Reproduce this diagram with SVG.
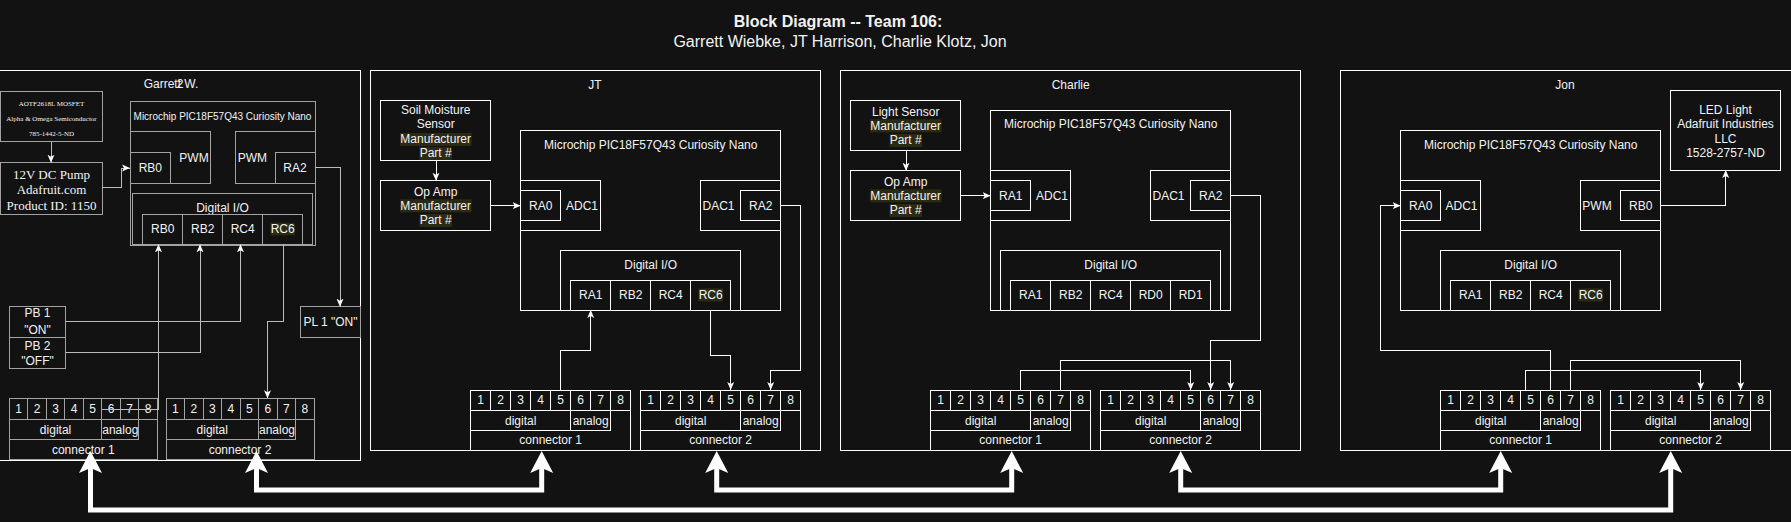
<svg xmlns="http://www.w3.org/2000/svg" width="1791" height="522" viewBox="0 0 1791 522">
<style>
.b{fill:none;stroke:#fff;stroke-width:1;shape-rendering:crispEdges}
.g{fill:none;stroke:#a3a3a3;stroke-width:1;shape-rendering:crispEdges}
.t{font-family:"Liberation Sans",Arial,Helvetica,sans-serif;font-size:12px;fill:#f2f2f2;text-anchor:middle;dominant-baseline:central}
.s{text-anchor:start}
.sm{font-size:10px}
.ser{font-family:"Liberation Serif","Times New Roman",serif}
.hl{fill:#2b2b14}
.e{fill:none;stroke:#fff;stroke-width:1;shape-rendering:crispEdges}
.eg{fill:none;stroke:#bdbdbd;stroke-width:1;shape-rendering:crispEdges}
.thick{fill:none;stroke:#fff;stroke-width:5;stroke-linejoin:miter}
.ah{fill:#fff}
</style>
<defs>
<marker id="a" viewBox="0 0 8 8" refX="8" refY="4" markerWidth="8" markerHeight="8" orient="auto" markerUnits="userSpaceOnUse">
<path d="M0,0.5 L8,4 L0,7.5 L2,4 Z" fill="#fff"/>
</marker>
</defs>
<rect x="0" y="0" width="1791" height="522" fill="#121212"/>

<g id="title">
<text class="t" x="838" y="21.7" style="font-size:16px;font-weight:bold">Block Diagram -- Team 106:</text>
<text class="t" x="840" y="41.7" style="font-size:16px">Garrett Wiebke, JT Harrison, Charlie Klotz, Jon</text>
</g>

<!-- ================= GARRETT ================= -->
<g id="garrett-panel">
<rect class="b" x="-1" y="70" width="361.7" height="390"/>
<text class="t" x="171" y="84">Garrett W.</text>
<text class="t" x="180" y="84">2</text>
</g>
<g id="garrett-mosfet">
<rect class="g" x="0" y="91" width="102" height="50.7"/>
<text class="t ser" x="51.5" y="104" style="font-size:7px">AOTF2618L MOSFET</text>
<text class="t ser" x="51.5" y="119" style="font-size:7px">Alpha &amp; Omega Semiconductor</text>
<text class="t ser" x="51.5" y="134" style="font-size:7px">785-1442-5-ND</text>
</g>
<g id="garrett-pump">
<rect class="g" x="0" y="162.7" width="102" height="51.3"/>
<text class="t ser" x="51.5" y="174" style="font-size:13px">12V DC Pump</text>
<text class="t ser" x="51.5" y="189.3" style="font-size:13px">Adafruit.com</text>
<text class="t ser" x="51.5" y="205" style="font-size:13px">Product ID: 1150</text>
</g>
<g id="garrett-mcu">
<rect class="g" x="130" y="101" width="185" height="144"/>
<text class="t sm" x="222.5" y="116.7">Microchip PIC18F57Q43 Curiosity Nano</text>
<rect class="g" x="130" y="131.7" width="80.7" height="51.6"/>
<rect class="g" x="130" y="152.3" width="40.7" height="31"/>
<text class="t" x="150.3" y="168">RB0</text>
<text class="t" x="194" y="157.7">PWM</text>
<rect class="g" x="235" y="131.7" width="80" height="51.6"/>
<rect class="g" x="275" y="152.3" width="40" height="31"/>
<text class="t" x="252.3" y="157.7">PWM</text>
<text class="t" x="295" y="168">RA2</text>
<rect class="g" x="132.3" y="193.3" width="180.4" height="51"/>
<text class="t" x="222.5" y="207.7">Digital I/O</text>
<rect class="g" x="142.7" y="214" width="40" height="30.3"/>
<rect class="g" x="182.7" y="214" width="40" height="30.3"/>
<rect class="g" x="222.7" y="214" width="40" height="30.3"/>
<rect class="g" x="262.7" y="214" width="40" height="30.3"/>
<text class="t" x="162.7" y="229">RB0</text>
<text class="t" x="202.7" y="229">RB2</text>
<text class="t" x="242.7" y="229">RC4</text>
<rect class="hl" x="270.5" y="222.8" width="24.5" height="12.5"/>
<text class="t" x="282.7" y="229">RC6</text>
</g>
<g id="garrett-pb1">
<rect class="g" x="9.3" y="306.7" width="56.4" height="30.6"/>
<text class="t" x="37.5" y="312.7">PB 1</text>
<text class="t" x="37.5" y="330">"ON"</text>
</g>
<g id="garrett-pb2">
<rect class="g" x="9.3" y="337.3" width="56.4" height="31"/>
<text class="t" x="37.5" y="346">PB 2</text>
<text class="t" x="37.5" y="360.7">"OFF"</text>
</g>
<g id="garrett-pl1">
<rect class="g" x="300.3" y="306.7" width="60.4" height="30.6"/>
<text class="t" x="330.5" y="322">PL 1 "ON"</text>
</g>
<g id="garrett-conn1" transform="translate(9.3,398.3)">
<rect class="g" x="0" y="0" width="148" height="61.7"/>
<path class="g" d="M18.5,0V21M37,0V21M55.5,0V21M74,0V21M92.5,0V21M111,0V21M129.5,0V21M0,21H148M0,41.7H129.5M92.5,21V41.7M129.5,21V41.7"/>
<text class="t" x="9.25" y="10.5">1</text><text class="t" x="27.75" y="10.5">2</text><text class="t" x="46.25" y="10.5">3</text><text class="t" x="64.75" y="10.5">4</text><text class="t" x="83.25" y="10.5">5</text><text class="t" x="101.75" y="10.5">6</text><text class="t" x="120.25" y="10.5">7</text><text class="t" x="138.75" y="10.5">8</text>
<text class="t" x="46.25" y="31.3">digital</text>
<text class="t" x="111" y="31.3">analog</text>
<text class="t" x="74" y="51.7">connector 1</text>
</g>
<g id="garrett-conn2" transform="translate(166,398.3)">
<rect class="g" x="0" y="0" width="148" height="61.7"/>
<path class="g" d="M18.5,0V21M37,0V21M55.5,0V21M74,0V21M92.5,0V21M111,0V21M129.5,0V21M0,21H148M0,41.7H129.5M92.5,21V41.7M129.5,21V41.7"/>
<text class="t" x="9.25" y="10.5">1</text><text class="t" x="27.75" y="10.5">2</text><text class="t" x="46.25" y="10.5">3</text><text class="t" x="64.75" y="10.5">4</text><text class="t" x="83.25" y="10.5">5</text><text class="t" x="101.75" y="10.5">6</text><text class="t" x="120.25" y="10.5">7</text><text class="t" x="138.75" y="10.5">8</text>
<text class="t" x="46.25" y="31.3">digital</text>
<text class="t" x="111" y="31.3">analog</text>
<text class="t" x="74" y="51.7">connector 2</text>
</g>

<!-- ================= JT ================= -->
<g id="jt-panel">
<rect class="b" x="370" y="70" width="450.7" height="380"/>
<text class="t" x="595" y="85">JT</text>
</g>
<g id="jt-sensor">
<rect class="b" x="380.7" y="100.7" width="110" height="59.3"/>
<text class="t" x="435.7" y="110">Soil Moisture</text>
<text class="t" x="435.7" y="124">Sensor</text>
<rect class="hl" x="400" y="133" width="71.5" height="13"/>
<text class="t" x="435.7" y="139.3">Manufacturer</text>
<rect class="hl" x="419.5" y="147" width="32.5" height="13"/>
<text class="t" x="435.7" y="153.3">Part #</text>
</g>
<g id="jt-opamp">
<rect class="b" x="380.7" y="180.7" width="110" height="49.3"/>
<text class="t" x="435.7" y="192.3">Op Amp</text>
<rect class="hl" x="400" y="199.3" width="71.5" height="13"/>
<text class="t" x="435.7" y="205.7">Manufacturer</text>
<rect class="hl" x="419.5" y="214" width="32.5" height="13"/>
<text class="t" x="435.7" y="220.3">Part #</text>
</g>
<g id="jt-mcu">
<rect class="b" x="520.7" y="130.7" width="260" height="179.3"/>
<text class="t" x="650.7" y="145">Microchip PIC18F57Q43 Curiosity Nano</text>
<rect class="b" x="520.7" y="180.7" width="80" height="50"/>
<rect class="b" x="520.7" y="190.7" width="40" height="30"/>
<text class="t" x="540.7" y="205.7">RA0</text>
<text class="t" x="582" y="205.7">ADC1</text>
<rect class="b" x="700.7" y="180.7" width="80" height="50"/>
<rect class="b" x="740.7" y="190.7" width="40" height="30"/>
<text class="t" x="718.5" y="205.7">DAC1</text>
<text class="t" x="760.7" y="205.7">RA2</text>
<rect class="b" x="560.7" y="250.7" width="180" height="59.3"/>
<text class="t" x="650.7" y="265">Digital I/O</text>
<rect class="b" x="570.7" y="280.3" width="40" height="29.7"/>
<rect class="b" x="610.7" y="280.3" width="40" height="29.7"/>
<rect class="b" x="650.7" y="280.3" width="40" height="29.7"/>
<rect class="b" x="690.7" y="280.3" width="40" height="29.7"/>
<text class="t" x="590.7" y="295">RA1</text>
<text class="t" x="630.7" y="295">RB2</text>
<text class="t" x="670.7" y="295">RC4</text>
<rect class="hl" x="698.5" y="288.5" width="24.5" height="13"/>
<text class="t" x="710.7" y="295">RC6</text>
</g>
<g id="jt-conn1" transform="translate(470.7,390)">
<rect class="b" x="0" y="0" width="160" height="60"/>
<path class="b" d="M20,0V20.7M40,0V20.7M60,0V20.7M80,0V20.7M100,0V20.7M120,0V20.7M140,0V20.7M0,20.7H160M0,40.7H140M100,20.7V40.7M140,20.7V40.7"/>
<text class="t" x="10" y="10.3">1</text><text class="t" x="30" y="10.3">2</text><text class="t" x="50" y="10.3">3</text><text class="t" x="70" y="10.3">4</text><text class="t" x="90" y="10.3">5</text><text class="t" x="110" y="10.3">6</text><text class="t" x="130" y="10.3">7</text><text class="t" x="150" y="10.3">8</text>
<text class="t" x="50" y="30.7">digital</text>
<text class="t" x="120" y="30.7">analog</text>
<text class="t" x="80" y="50.3">connector 1</text>
</g>
<g id="jt-conn2" transform="translate(640.7,390)">
<rect class="b" x="0" y="0" width="160" height="60"/>
<path class="b" d="M20,0V20.7M40,0V20.7M60,0V20.7M80,0V20.7M100,0V20.7M120,0V20.7M140,0V20.7M0,20.7H160M0,40.7H140M100,20.7V40.7M140,20.7V40.7"/>
<text class="t" x="10" y="10.3">1</text><text class="t" x="30" y="10.3">2</text><text class="t" x="50" y="10.3">3</text><text class="t" x="70" y="10.3">4</text><text class="t" x="90" y="10.3">5</text><text class="t" x="110" y="10.3">6</text><text class="t" x="130" y="10.3">7</text><text class="t" x="150" y="10.3">8</text>
<text class="t" x="50" y="30.7">digital</text>
<text class="t" x="120" y="30.7">analog</text>
<text class="t" x="80" y="50.3">connector 2</text>
</g>

<!-- ================= CHARLIE ================= -->
<g id="charlie-panel">
<rect class="b" x="840" y="70" width="460.7" height="380"/>
<text class="t" x="1070.7" y="85">Charlie</text>
</g>
<g id="charlie-sensor">
<rect class="b" x="850.7" y="100.7" width="110" height="49.3"/>
<text class="t" x="905.7" y="111.7">Light Sensor</text>
<rect class="hl" x="870" y="119.3" width="71.5" height="13"/>
<text class="t" x="905.7" y="125.7">Manufacturer</text>
<rect class="hl" x="889.5" y="134" width="32.5" height="13"/>
<text class="t" x="905.7" y="140.3">Part #</text>
</g>
<g id="charlie-opamp">
<rect class="b" x="850.7" y="170.7" width="110" height="50"/>
<text class="t" x="905.7" y="181.7">Op Amp</text>
<rect class="hl" x="870" y="189.3" width="71.5" height="13"/>
<text class="t" x="905.7" y="195.7">Manufacturer</text>
<rect class="hl" x="889.5" y="204" width="32.5" height="13"/>
<text class="t" x="905.7" y="210.3">Part #</text>
</g>
<g id="charlie-mcu">
<rect class="b" x="990.7" y="110.7" width="240" height="199.3"/>
<text class="t" x="1110.7" y="124.3">Microchip PIC18F57Q43 Curiosity Nano</text>
<rect class="b" x="990.7" y="170.7" width="80" height="50"/>
<rect class="b" x="990.7" y="180.7" width="40" height="30"/>
<text class="t" x="1010.7" y="195.7">RA1</text>
<text class="t" x="1052" y="195.7">ADC1</text>
<rect class="b" x="1150.7" y="170.7" width="80" height="50"/>
<rect class="b" x="1190.7" y="180.7" width="40" height="30"/>
<text class="t" x="1168.5" y="195.7">DAC1</text>
<text class="t" x="1210.7" y="195.7">RA2</text>
<rect class="b" x="1000.7" y="250.7" width="220" height="59.3"/>
<text class="t" x="1110.7" y="265">Digital I/O</text>
<rect class="b" x="1010.7" y="280.3" width="40" height="29.7"/>
<rect class="b" x="1050.7" y="280.3" width="40" height="29.7"/>
<rect class="b" x="1090.7" y="280.3" width="40" height="29.7"/>
<rect class="b" x="1130.7" y="280.3" width="40" height="29.7"/>
<rect class="b" x="1170.7" y="280.3" width="40" height="29.7"/>
<text class="t" x="1030.7" y="295">RA1</text>
<text class="t" x="1070.7" y="295">RB2</text>
<text class="t" x="1110.7" y="295">RC4</text>
<text class="t" x="1150.7" y="295">RD0</text>
<text class="t" x="1190.7" y="295">RD1</text>
</g>
<g id="charlie-conn1" transform="translate(930.7,390)">
<rect class="b" x="0" y="0" width="160" height="60"/>
<path class="b" d="M20,0V20.7M40,0V20.7M60,0V20.7M80,0V20.7M100,0V20.7M120,0V20.7M140,0V20.7M0,20.7H160M0,40.7H140M100,20.7V40.7M140,20.7V40.7"/>
<text class="t" x="10" y="10.3">1</text><text class="t" x="30" y="10.3">2</text><text class="t" x="50" y="10.3">3</text><text class="t" x="70" y="10.3">4</text><text class="t" x="90" y="10.3">5</text><text class="t" x="110" y="10.3">6</text><text class="t" x="130" y="10.3">7</text><text class="t" x="150" y="10.3">8</text>
<text class="t" x="50" y="30.7">digital</text>
<text class="t" x="120" y="30.7">analog</text>
<text class="t" x="80" y="50.3">connector 1</text>
</g>
<g id="charlie-conn2" transform="translate(1100.7,390)">
<rect class="b" x="0" y="0" width="160" height="60"/>
<path class="b" d="M20,0V20.7M40,0V20.7M60,0V20.7M80,0V20.7M100,0V20.7M120,0V20.7M140,0V20.7M0,20.7H160M0,40.7H140M100,20.7V40.7M140,20.7V40.7"/>
<text class="t" x="10" y="10.3">1</text><text class="t" x="30" y="10.3">2</text><text class="t" x="50" y="10.3">3</text><text class="t" x="70" y="10.3">4</text><text class="t" x="90" y="10.3">5</text><text class="t" x="110" y="10.3">6</text><text class="t" x="130" y="10.3">7</text><text class="t" x="150" y="10.3">8</text>
<text class="t" x="50" y="30.7">digital</text>
<text class="t" x="120" y="30.7">analog</text>
<text class="t" x="80" y="50.3">connector 2</text>
</g>

<!-- ================= JON ================= -->
<g id="jon-panel">
<rect class="b" x="1340" y="70" width="470" height="380"/>
<text class="t" x="1565" y="85">Jon</text>
</g>
<g id="jon-led">
<rect class="b" x="1670.3" y="90.7" width="110.4" height="79.3"/>
<text class="t" x="1725.5" y="110">LED Light</text>
<text class="t" x="1725.5" y="124">Adafruit Industries</text>
<text class="t" x="1725.5" y="139">LLC</text>
<text class="t" x="1725.5" y="153.3">1528-2757-ND</text>
</g>
<g id="jon-mcu">
<rect class="b" x="1400.7" y="130.7" width="260" height="179.3"/>
<text class="t" x="1530.7" y="145">Microchip PIC18F57Q43 Curiosity Nano</text>
<rect class="b" x="1400.7" y="180.7" width="80" height="50"/>
<rect class="b" x="1400.7" y="190.7" width="40" height="30"/>
<text class="t" x="1420.7" y="205.7">RA0</text>
<text class="t" x="1461.5" y="205.7">ADC1</text>
<rect class="b" x="1580.7" y="180.7" width="80" height="50"/>
<rect class="b" x="1620.7" y="190.7" width="40" height="30"/>
<text class="t" x="1597" y="205.7">PWM</text>
<text class="t" x="1640.7" y="205.7">RB0</text>
<rect class="b" x="1440.7" y="250.7" width="180" height="59.3"/>
<text class="t" x="1530.7" y="265">Digital I/O</text>
<rect class="b" x="1450.7" y="280.3" width="40" height="29.7"/>
<rect class="b" x="1490.7" y="280.3" width="40" height="29.7"/>
<rect class="b" x="1530.7" y="280.3" width="40" height="29.7"/>
<rect class="b" x="1570.7" y="280.3" width="40" height="29.7"/>
<text class="t" x="1470.7" y="295">RA1</text>
<text class="t" x="1510.7" y="295">RB2</text>
<text class="t" x="1550.7" y="295">RC4</text>
<rect class="hl" x="1578.5" y="288.5" width="24.5" height="13"/>
<text class="t" x="1590.7" y="295">RC6</text>
</g>
<g id="jon-conn1" transform="translate(1440.7,390)">
<rect class="b" x="0" y="0" width="160" height="60"/>
<path class="b" d="M20,0V20.7M40,0V20.7M60,0V20.7M80,0V20.7M100,0V20.7M120,0V20.7M140,0V20.7M0,20.7H160M0,40.7H140M100,20.7V40.7M140,20.7V40.7"/>
<text class="t" x="10" y="10.3">1</text><text class="t" x="30" y="10.3">2</text><text class="t" x="50" y="10.3">3</text><text class="t" x="70" y="10.3">4</text><text class="t" x="90" y="10.3">5</text><text class="t" x="110" y="10.3">6</text><text class="t" x="130" y="10.3">7</text><text class="t" x="150" y="10.3">8</text>
<text class="t" x="50" y="30.7">digital</text>
<text class="t" x="120" y="30.7">analog</text>
<text class="t" x="80" y="50.3">connector 1</text>
</g>
<g id="jon-conn2" transform="translate(1610.7,390)">
<rect class="b" x="0" y="0" width="160" height="60"/>
<path class="b" d="M20,0V20.7M40,0V20.7M60,0V20.7M80,0V20.7M100,0V20.7M120,0V20.7M140,0V20.7M0,20.7H160M0,40.7H140M100,20.7V40.7M140,20.7V40.7"/>
<text class="t" x="10" y="10.3">1</text><text class="t" x="30" y="10.3">2</text><text class="t" x="50" y="10.3">3</text><text class="t" x="70" y="10.3">4</text><text class="t" x="90" y="10.3">5</text><text class="t" x="110" y="10.3">6</text><text class="t" x="130" y="10.3">7</text><text class="t" x="150" y="10.3">8</text>
<text class="t" x="50" y="30.7">digital</text>
<text class="t" x="120" y="30.7">analog</text>
<text class="t" x="80" y="50.3">connector 2</text>
</g>

<!-- ================= CONNECTORS ================= -->
<g id="connectors">
<!-- Garrett -->
<path class="eg" d="M51,141.7V162.7" marker-end="url(#a)"/>
<path class="eg" d="M102,187.7H121V168H130" marker-end="url(#a)"/>
<path class="eg" d="M315,167.5H340V306.7" marker-end="url(#a)"/>
<path class="eg" d="M65.7,321.7H240.5V244.3" marker-end="url(#a)"/>
<path class="eg" d="M65.7,352.3H200V244.3" marker-end="url(#a)"/>
<path class="eg" d="M101.8,409H158.5V244.3" marker-end="url(#a)"/>
<path class="eg" d="M283.3,244.3V321.7H267.5V398.3" marker-end="url(#a)"/>
<!-- JT -->
<path class="e" d="M436,160V180.7" marker-end="url(#a)"/>
<path class="e" d="M490.7,205.7H520.7" marker-end="url(#a)"/>
<path class="e" d="M560.7,390V350H590.7V310" marker-end="url(#a)"/>
<path class="e" d="M710,310V355H730.7V390" marker-end="url(#a)"/>
<path class="e" d="M780.7,205.7H800.7V370H770.7V390" marker-end="url(#a)"/>
<!-- Charlie -->
<path class="e" d="M906,150V170.7" marker-end="url(#a)"/>
<path class="e" d="M960.7,195.7H990.7" marker-end="url(#a)"/>
<path class="e" d="M1230.7,195.7H1260.7V340.7H1210.7V390" marker-end="url(#a)"/>
<path class="e" d="M1020.7,390V370.7H1190.7V390" marker-end="url(#a)"/>
<path class="e" d="M1060.7,390V360.7H1230.7V390" marker-end="url(#a)"/>
<!-- Jon -->
<path class="e" d="M1660.7,205.7H1725.7V170" marker-end="url(#a)"/>
<path class="e" d="M1550.7,390V350H1380.7V205.7H1400.7" marker-end="url(#a)"/>
<path class="e" d="M1525,390V370.7H1700.7V390" marker-end="url(#a)"/>
<path class="e" d="M1570.7,390V360.7H1740.7V390" marker-end="url(#a)"/>
<!-- thick bus arrows -->
<path class="thick" d="M90.5,468V510H1670.7V468"/>
<polygon class="ah" points="90.5,451 102,473 90.5,468 79,473"/>
<polygon class="ah" points="1670.7,451 1682.2,473 1670.7,468 1659.2,473"/>
<path class="thick" d="M256.5,468V490H541.7V468"/>
<polygon class="ah" points="256.5,451 268,473 256.5,468 245,473"/>
<polygon class="ah" points="541.7,451 553.2,473 541.7,468 530.2,473"/>
<path class="thick" d="M716.7,468V490H1011.7V468"/>
<polygon class="ah" points="716.7,451 728.2,473 716.7,468 705.2,473"/>
<polygon class="ah" points="1011.7,451 1023.2,473 1011.7,468 1000.2,473"/>
<path class="thick" d="M1180.7,468V490H1500.7V468"/>
<polygon class="ah" points="1180.7,451 1192.2,473 1180.7,468 1169.2,473"/>
<polygon class="ah" points="1500.7,451 1512.2,473 1500.7,468 1489.2,473"/>
</g>
</svg>
